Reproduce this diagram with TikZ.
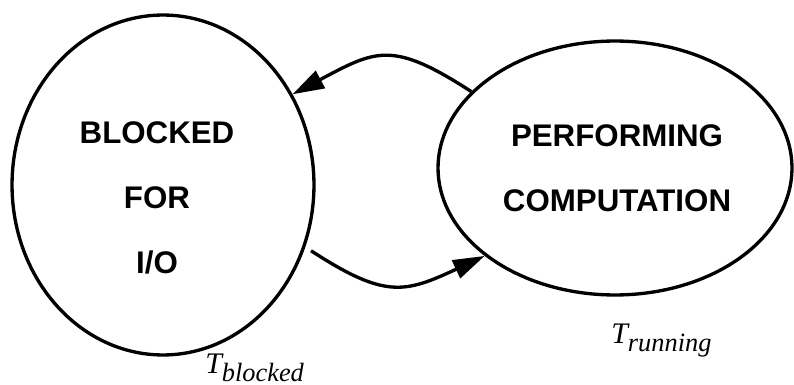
\documentclass[tikz,border=0pt]{standalone}
\usepackage{fontspec}
\setmainfont{Liberation Serif}
\setsansfont{Liberation Sans}
\usetikzlibrary{arrows.meta, positioning, shapes.geometric}

\begin{document}
\begin{tikzpicture}[x=0.02cm,y=-0.02cm,>={Triangle[length=18pt,width=11pt]}]
        \tikzstyle{state}=[ellipse,draw,line width=1.9pt,inner sep=0pt]
        \tikzstyle{statetext}=[align=center,font=\fontsize{17.8pt}{37pt}\selectfont\sffamily\bfseries]
        \tikzstyle{time}=[anchor=base west,inner sep=0pt,font=\fontsize{17pt}{17pt}\selectfont\itshape]
        \tikzstyle{move}=[->,line width=1.9pt]
        \useasboundingbox (0,0) rectangle (794,385);
        % the two states
        \node[state,minimum width=6.04cm,minimum height=6.8cm] (blocked) at (163,185) {};
        \node[statetext] (blockedtext) at (157,198) {BLOCKED\\FOR\\I/O};
        \node[state,minimum width=7.08cm,minimum height=5.08cm] (running) at (615,168) {};
        \node[statetext] (runningtext) at (617,168) {PERFORMING\\COMPUTATION};
        % time spent in each state
        \node[time] (tblocked) at (205,373) {T\raisebox{-5pt}{\fontsize{15pt}{15pt}\selectfont blocked}};
        \node[time] (trunning) at (611,343) {T\raisebox{-5pt}{\fontsize{15pt}{15pt}\selectfont running}};
        % transitions
        \draw[move] (running.152.8) to[out=147,in=28,looseness=1.35] (blocked.35.3);
        \draw[move] ([xshift=4pt]blocked.-25) to[out=-33,in=205,looseness=1.3] (running.214.2);
    \end{tikzpicture}
\end{document}
